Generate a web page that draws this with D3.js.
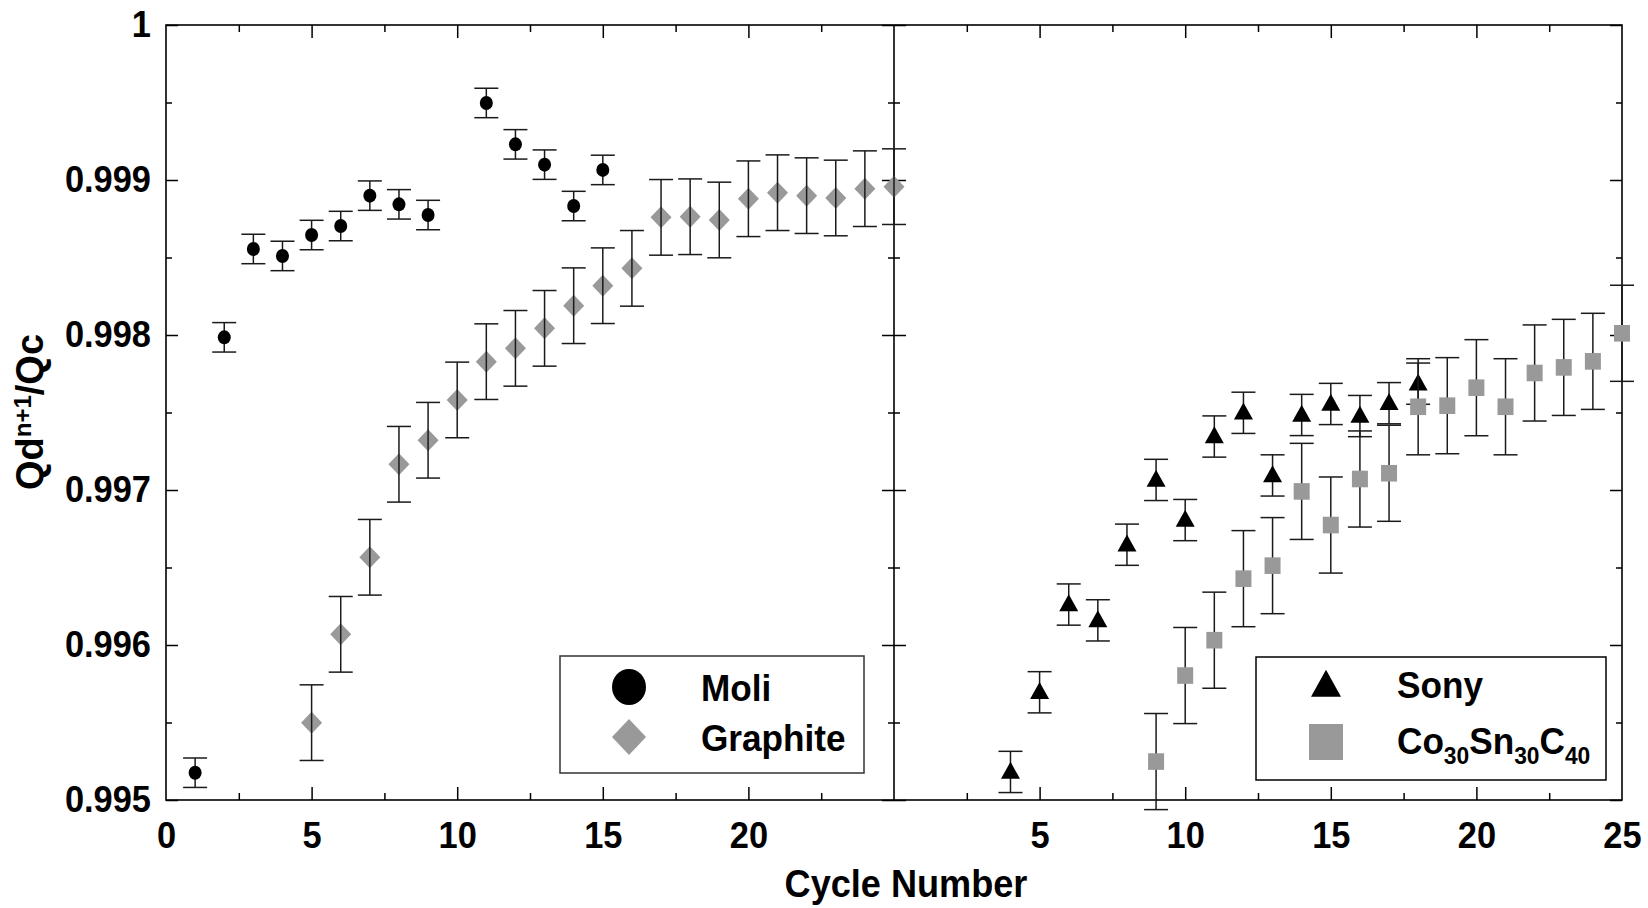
<!DOCTYPE html>
<html>
<head>
<meta charset="utf-8">
<script src="https://cdn.jsdelivr.net/npm/d3@7"></script>
<style>
  html, body { margin: 0; padding: 0; background: #fff; }
  svg { display: block; }
  text { font-family: "Liberation Sans", Arial, Helvetica, sans-serif; font-weight: bold; fill: #000; }
</style>
</head>
<body>
<svg id="chart" width="1648" height="908"></svg>
<script>
// ---------------- data ----------------
const moliCycles = [1, 2, 3, 4, 5, 6, 7, 8, 9, 11, 12, 13, 14, 15];
const moliValues = [0.995176, 0.997985, 0.998555, 0.998510, 0.998645, 0.998703, 0.998899,
                    0.998843, 0.998774, 0.999497, 0.999230, 0.999099, 0.998832, 0.999065];
const moliErr = 0.000095;

const graphiteCycles = [5, 6, 7, 8, 9, 10, 11, 12, 13, 14, 15, 16, 17, 18, 19, 20, 21, 22, 23, 24, 25];
const graphiteValues = [0.995499, 0.996069, 0.996566, 0.997166, 0.997321, 0.997581, 0.997828,
                        0.997914, 0.998043, 0.998189, 0.998318, 0.998430, 0.998759, 0.998763,
                        0.998742, 0.998879, 0.998918, 0.998899, 0.998884, 0.998944, 0.998957];
const graphiteErr = 0.000244;

const sonyCycles = [4, 5, 6, 7, 8, 9, 10, 11, 12, 13, 14, 15, 16, 17, 18];
const sonyValues = [0.995181, 0.995695, 0.996261, 0.996159, 0.996647, 0.997065, 0.996806,
                    0.997345, 0.997498, 0.997094, 0.997484, 0.997555, 0.997477, 0.997560, 0.997686];
const sonyErr = 0.000133;

const coCycles = [9, 10, 11, 12, 13, 14, 15, 16, 17, 18, 19, 20, 21, 22, 23, 24, 25];
const coValues = [0.995248, 0.995803, 0.996031, 0.996428, 0.996512, 0.996991, 0.996774,
                  0.997071, 0.997108, 0.997537, 0.997544, 0.997660, 0.997537, 0.997755,
                  0.997791, 0.997830, 0.998011];
const coErr = 0.00031;

const leftXLabels = [0, 5, 10, 15, 20];
const rightXLabels = [5, 10, 15, 20, 25];
const xMajorTicks = [5, 10, 15, 20];
const xMinorTicks = [2.5, 7.5, 12.5, 17.5, 22.5];
const yMajorTicks = [0.995, 0.996, 0.997, 0.998, 0.999, 1.0];
const yMinorTicks = [0.9955, 0.9965, 0.9975, 0.9985, 0.9995];
const xTitle = "Cycle Number";

// ---------------- layout ----------------
const L = 166, D = 894, R = 1622, T = 25, B = 800;
const xL = d3.scaleLinear().domain([0, 25]).range([L, D]);
const xR = d3.scaleLinear().domain([0, 25]).range([D, R]);
const y = d3.scaleLinear().domain([0.995, 1.0]).range([B, T]);

const svg = d3.select("#chart");
const GRAY = "#999999";
const ERR = "#1a1a1a";
const MAJ = 12, MIN = 6;
const TICKFONT = 37;

function clean(g) { g.select(".domain").remove(); g.selectAll(".tick line").attr("stroke", "#000").attr("stroke-width", 1.5); }
function condense(sel, k) {
  sel.each(function () {
    const w = this.getComputedTextLength();
    if (w > 0) d3.select(this).attr("textLength", w * k).attr("lengthAdjust", "spacingAndGlyphs");
  });
}

// x ticks bottom/top for both panels
[[xL, leftXLabels], [xR, rightXLabels]].forEach(([xs, labels]) => {
  svg.append("g").attr("transform", `translate(0,${B})`)
    .call(d3.axisBottom(xs).tickValues(xMajorTicks).tickSize(-MAJ-1).tickFormat(""))
    .call(clean);
  svg.append("g").attr("transform", `translate(0,${B})`)
    .call(d3.axisBottom(xs).tickValues(xMinorTicks).tickSize(-MIN-1).tickFormat(""))
    .call(clean);
  svg.append("g").attr("transform", `translate(0,${T})`)
    .call(d3.axisTop(xs).tickValues(xMajorTicks).tickSize(-MAJ-1).tickFormat(""))
    .call(clean);
  svg.append("g").attr("transform", `translate(0,${T})`)
    .call(d3.axisTop(xs).tickValues(xMinorTicks).tickSize(-MIN-1).tickFormat(""))
    .call(clean);
  const lab = svg.append("g").attr("transform", `translate(0,${B})`)
    .call(d3.axisBottom(xs).tickValues(labels).tickSize(0).tickPadding(22).tickFormat(d3.format("d")));
  lab.select(".domain").remove();
  lab.selectAll("text").attr("font-size", TICKFONT).attr("font-family", "Liberation Sans, Arial, sans-serif")
    .attr("font-weight", "bold").call(condense, 0.93);
});

// y ticks: left axis (inward), divider (both sides), right axis (inward)
const yl = svg.append("g").attr("transform", `translate(${L},0)`)
  .call(d3.axisLeft(y).tickValues(yMajorTicks).tickSize(-MAJ).tickPadding(15)
    .tickFormat(d => d === 1 ? "1" : d3.format(".3f")(d)));
clean(yl);
yl.selectAll("text").attr("font-size", TICKFONT).attr("font-family", "Liberation Sans, Arial, sans-serif")
  .attr("font-weight", "bold").call(condense, 0.93);
svg.append("g").attr("transform", `translate(${L},0)`)
  .call(d3.axisLeft(y).tickValues(yMinorTicks).tickSize(-MIN).tickFormat("")).call(clean);

[[MAJ, yMajorTicks], [MIN, yMinorTicks]].forEach(([s, tv]) => {
  svg.append("g").attr("transform", `translate(${D},0)`)
    .call(d3.axisLeft(y).tickValues(tv).tickSize(s).tickFormat("")).call(clean);
  svg.append("g").attr("transform", `translate(${D},0)`)
    .call(d3.axisRight(y).tickValues(tv).tickSize(s).tickFormat("")).call(clean);
  svg.append("g").attr("transform", `translate(${R},0)`)
    .call(d3.axisRight(y).tickValues(tv).tickSize(-s).tickFormat("")).call(clean);
});

// frame and divider
svg.append("rect").attr("x", L).attr("y", T).attr("width", R - L).attr("height", B - T)
  .attr("fill", "none").attr("stroke", "#000").attr("stroke-width", 1.6);
svg.append("line").attr("x1", D).attr("x2", D).attr("y1", T).attr("y2", B)
  .attr("stroke", "#000").attr("stroke-width", 1.6);

// ---------------- marker shapes ----------------
function diamondPath(cx, cy, w, h) { return `M${cx},${cy - h}L${cx + w},${cy}L${cx},${cy + h}L${cx - w},${cy}Z`; }
function trianglePath(cx, cy, w, h) { return `M${cx},${cy - h * 0.6}L${cx + w / 2},${cy + h * 0.4}L${cx - w / 2},${cy + h * 0.4}Z`; }

function errorBars(g, cycles, values, err, xs) {
  const cap = 12;
  const eg = g.append("g").attr("stroke", ERR).attr("stroke-width", 1.5).attr("fill", "none");
  cycles.forEach((c, i) => {
    const cx = xs(c), y1 = y(values[i] + err), y2 = y(values[i] - err);
    eg.append("line").attr("x1", cx).attr("x2", cx).attr("y1", y1).attr("y2", y2);
    eg.append("line").attr("x1", cx - cap).attr("x2", cx + cap).attr("y1", y1).attr("y2", y1);
    eg.append("line").attr("x1", cx - cap).attr("x2", cx + cap).attr("y1", y2).attr("y2", y2);
  });
}

const plot = svg.append("g");

// Graphite (left): markers then error bars on top
plot.append("g").selectAll("path").data(graphiteCycles).join("path")
  .attr("d", (c, i) => diamondPath(xL(c), y(graphiteValues[i]), 10.5, 11))
  .attr("fill", GRAY);
errorBars(plot, graphiteCycles, graphiteValues, graphiteErr, xL);

// Moli (left)
errorBars(plot, moliCycles, moliValues, moliErr, xL);
plot.append("g").selectAll("ellipse").data(moliCycles).join("ellipse")
  .attr("cx", c => xL(c)).attr("cy", (c, i) => y(moliValues[i]))
  .attr("rx", 6.5).attr("ry", 7).attr("fill", "#000");

// Sony (right)
errorBars(plot, sonyCycles, sonyValues, sonyErr, xR);
plot.append("g").selectAll("path").data(sonyCycles).join("path")
  .attr("d", (c, i) => trianglePath(xR(c), y(sonyValues[i]), 19, 17))
  .attr("fill", "#000");

// Co30Sn30C40 (right)
errorBars(plot, coCycles, coValues, coErr, xR);
plot.append("g").selectAll("rect").data(coCycles).join("rect")
  .attr("x", c => xR(c) - 8).attr("y", (c, i) => y(coValues[i]) - 8.3)
  .attr("width", 16).attr("height", 16.6).attr("fill", GRAY);

// ---------------- legends ----------------
const LEGFONT = 37;
const lg1 = svg.append("g");
lg1.append("rect").attr("x", 560).attr("y", 656).attr("width", 304).attr("height", 117)
  .attr("fill", "#fff").attr("stroke", "#333").attr("stroke-width", 1.5);
lg1.append("ellipse").attr("cx", 629).attr("cy", 687).attr("rx", 17).attr("ry", 18).attr("fill", "#000");
lg1.append("path").attr("d", diamondPath(629, 737, 17, 18)).attr("fill", GRAY);
lg1.append("text").attr("x", 701).attr("y", 701).attr("font-size", LEGFONT).text("Moli").call(condense, 0.95);
lg1.append("text").attr("x", 701).attr("y", 751).attr("font-size", LEGFONT).text("Graphite").call(condense, 0.95);

const lg2 = svg.append("g");
lg2.append("rect").attr("x", 1256).attr("y", 657).attr("width", 350).attr("height", 123)
  .attr("fill", "#fff").attr("stroke", "#000").attr("stroke-width", 1.5);
lg2.append("path").attr("d", trianglePath(1326, 686, 30, 27)).attr("fill", "#000");
lg2.append("rect").attr("x", 1309).attr("y", 724).attr("width", 34).attr("height", 36).attr("fill", GRAY);
lg2.append("text").attr("x", 1397).attr("y", 698).attr("font-size", LEGFONT).text("Sony").call(condense, 0.95);
const co = lg2.append("text").attr("x", 1397).attr("y", 754).attr("font-size", LEGFONT);
const coParts = [["Co", false], ["30", true], ["Sn", false], ["30", true], ["C", false], ["40", true]];
coParts.forEach(([t, sub], i) => {
  const ts = co.append("tspan").text(t);
  if (sub) ts.attr("font-size", 24).attr("dy", 10);
  else if (i > 0) ts.attr("dy", -10);
});
co.call(condense, 0.95);

// ---------------- axis titles ----------------
svg.append("text").attr("x", 906).attr("y", 897).attr("text-anchor", "middle")
  .attr("font-size", 38).text(xTitle).call(condense, 0.95);

const yt = svg.append("text").attr("transform", `translate(43,412) rotate(-90)`)
  .attr("text-anchor", "middle").attr("font-size", 38);
yt.append("tspan").text("Qd");
yt.append("tspan").attr("font-size", 24).attr("dy", -12).text("n+1");
yt.append("tspan").attr("dy", 12).text("/Qc");
</script>
</body>
</html>
